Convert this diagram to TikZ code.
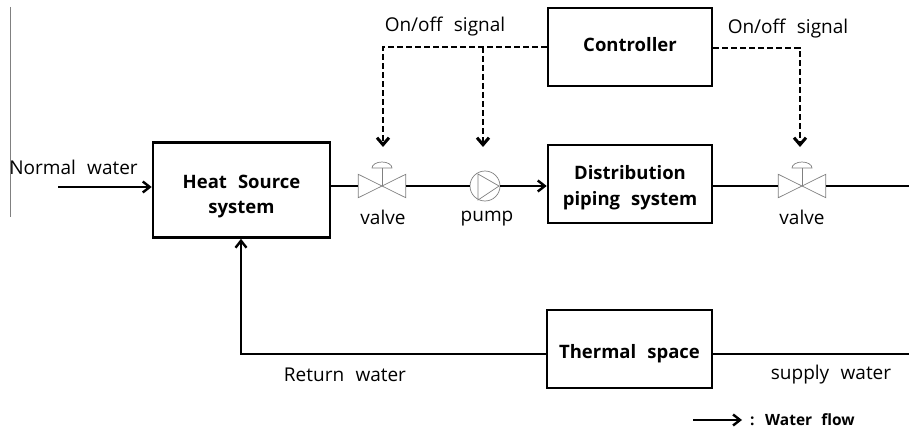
\documentclass[tikz,border=0pt]{standalone}
\usepackage{fontspec}
\setmainfont[WordSpace=2.3]{Open Sans}
\usetikzlibrary{arrows.meta}
\tikzset{
  unitbox/.style={draw,line width=2.6pt,align=center,font=\fontsize{18.5}{25.5}\selectfont\bfseries},
  label/.style={font=\fontsize{19}{22}\selectfont,inner sep=0pt},
  pipe/.style={line width=2.4pt},
  flow/.style={pipe,-{Straight Barb[length=7pt,width=11pt,line width=2.4pt]}},
  signal/.style={line width=2.6pt,dash pattern=on 6pt off 3pt,-{Straight Barb[length=7pt,width=12pt,line width=3pt]}},
  part/.style={draw=black!50,line width=0.7pt},
  port/.style={inner sep=0pt,minimum width=47pt,minimum height=23pt}
}
\newcommand{\valveat}[1]{
  \draw[part] (#1.north west) -- (#1.south west) -- (#1.north east) -- (#1.south east) -- cycle;
  \draw[part] (#1.center) -- ++(0,18pt);
  \draw[part] ([xshift=-10pt,yshift=18pt]#1.center) arc (180:0:10pt and 6pt) -- cycle;
}
\begin{document}
\begin{tikzpicture}[x=1pt,y=-1pt]
\useasboundingbox (0,0) rectangle (909,433);
\draw[black!50,line width=1pt] (10.5,7) -- (10.5,217);
% boxes
\node[unitbox,minimum width=177pt,minimum height=95pt,text height=52pt] (heat) at (241.5,190) {Heat Source\\system};
\node[unitbox,minimum width=164pt,minimum height=78pt,text depth=5pt] (controller) at (630,47) {Controller};
\node[unitbox,minimum width=164pt,minimum height=78pt,text height=47pt] (distribution) at (630,184) {Distribution\\piping system};
\node[unitbox,minimum width=165pt,minimum height=78pt,text height=24pt] (thermal) at (629.5,349) {Thermal space};
% valves and pump
\node[port] (valveA) at (382,186) {};
\node[port] (valveB) at (802,186) {};
\node[draw=black!50,line width=0.7pt,circle,minimum size=30pt,inner sep=0pt] (pump) at (485,186) {};
\valveat{valveA}
\valveat{valveB}
\draw[part] (478,174) -- (499,186) -- (478,200) -- cycle;
% free ends
\coordinate (inlet) at (58,187);
\coordinate (outA) at (909,186);
\coordinate (outB) at (909,354);
\coordinate (corner) at (241,354);
\coordinate (toValveA) at (383,147);
\coordinate (toPump) at (483,147);
\coordinate (toValveB) at (800,147);
\coordinate (cornerA) at (383,47);
\coordinate (cornerP) at (483,47);
\coordinate (cornerB) at (800,48);
\coordinate (keyA) at (693,420);
\coordinate (keyB) at (742,420);
% water
\draw[flow] (inlet) -- (heat.west |- inlet);
\draw[pipe] (heat.east |- valveA) -- (valveA.west);
\draw[pipe] (valveA.east) -- (pump.west);
\draw[flow] (pump.east) -- (distribution.west |- pump);
\draw[pipe] (distribution.east |- valveB) -- (valveB.west);
\draw[pipe] (valveB.east) -- (outA);
\draw[pipe] (outB) -- (thermal.east |- outB);
\draw[flow] (thermal.west |- corner) -- (corner) -- (heat.south -| corner);
% signals
\draw[signal] (controller.west |- cornerA) -- (cornerA) -- (toValveA);
\draw[signal] (cornerP) -- (toPump);
\draw[signal] (controller.east |- cornerB) -- (cornerB) -- (toValveB);
% labels
\node[label] (normal) at (73.5,167) {Normal water};
\node[label] (onoffA) at (445,27) {On/off signal};
\node[label] (onoffB) at (788,29) {On/off signal};
\node[label] (valveLabelA) at (383,217) {valve};
\node[label] (pumpLabel) at (487,219) {pump};
\node[label] (valveLabelB) at (802,217) {valve};
\node[label] (returnLabel) at (345,375) {Return water};
\node[label] (supplyLabel) at (831,375) {supply water};
\draw[flow] (keyA) -- (keyB);
\node[label,anchor=west,font=\fontsize{15.5}{18}\selectfont\bfseries] (key) at (750,420) {: Water flow};
\end{tikzpicture}
\end{document}
